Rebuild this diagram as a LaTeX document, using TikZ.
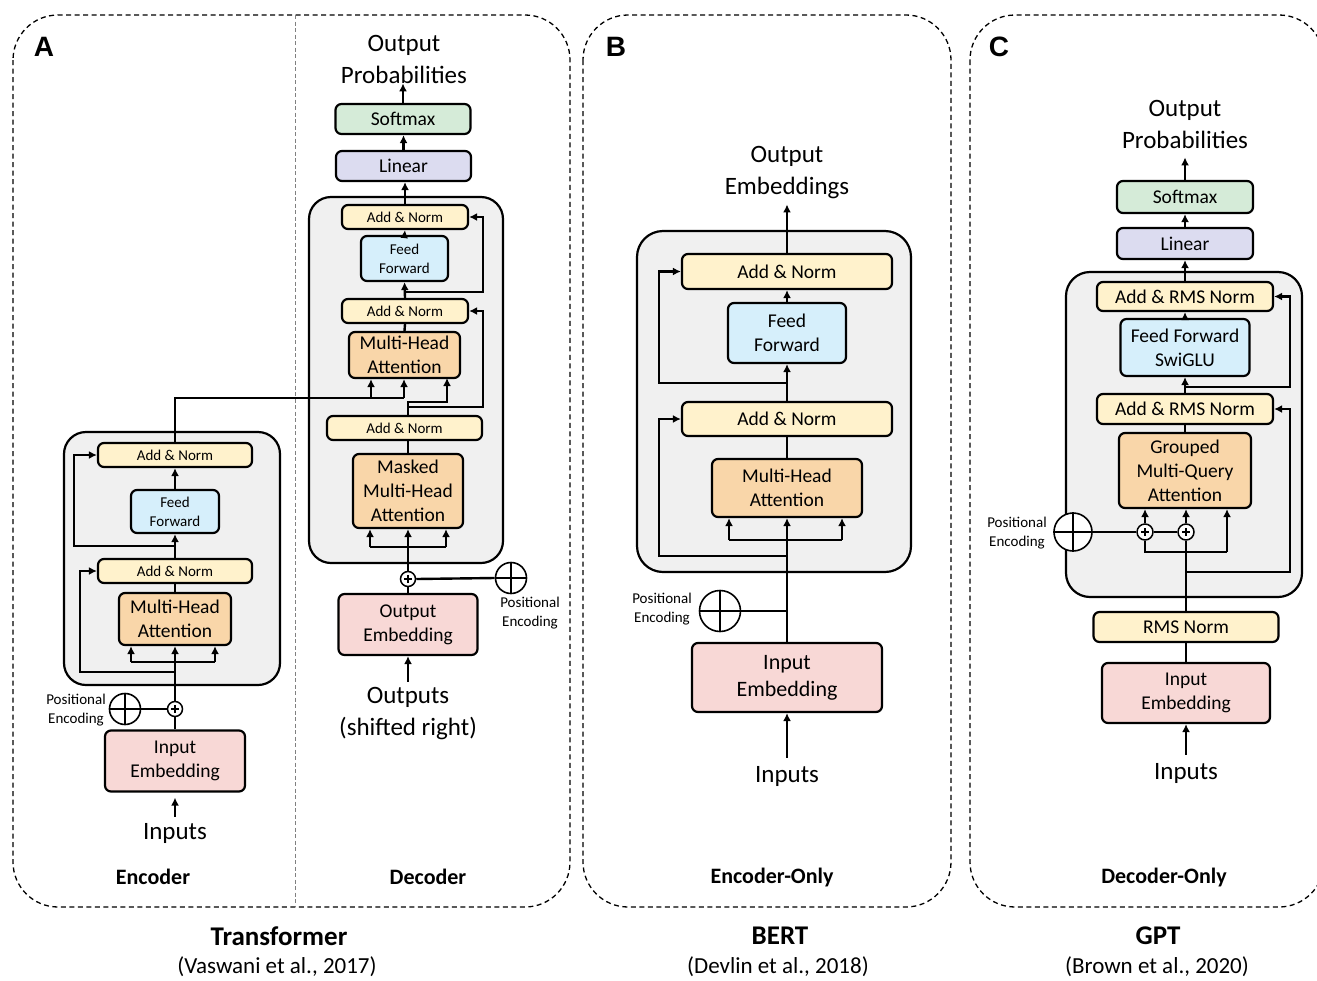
\documentclass[tikz,border=0pt]{standalone}
\usepackage{fontspec}
\setmainfont{Carlito}
\newfontfamily\arialf{Liberation Sans}
\usetikzlibrary{arrows.meta}
\definecolor{cYel}{HTML}{FFF2CC}
\definecolor{cBlue}{HTML}{D6EFFB}
\definecolor{cOrg}{HTML}{F9D6A9}
\definecolor{cPink}{HTML}{F8D8D6}
\definecolor{cGreen}{HTML}{D5EBD8}
\definecolor{cLav}{HTML}{DCDCF0}
\definecolor{cGrey}{HTML}{F0F0F0}
\newcommand{\plusmark}[1]{\draw[line width=1.3pt] ([xshift=-4pt]#1.center) -- ([xshift=4pt]#1.center) ([yshift=-4pt]#1.center) -- ([yshift=4pt]#1.center);}
\newcommand{\crossmark}[1]{\draw[line width=1.5pt] (#1.north) -- (#1.south) (#1.west) -- (#1.east);}
\begin{document}
\begin{tikzpicture}[x=1pt,y=-1pt,
 ln/.style={line width=2.4pt},
 arr/.style={line width=2.4pt,-{Latex[length=8pt,width=8pt]}},
 box/.style={draw,line width=2.2pt,rounded corners=6pt,align=center,inner sep=0pt},
 an/.style={box,fill=cYel},
 ff/.style={box,fill=cBlue},
 att/.style={box,fill=cOrg},
 emb/.style={box,fill=cPink},
 sm/.style={box,fill=cGreen},
 lin/.style={box,fill=cLav},
 blk/.style={draw,line width=2.2pt,fill=cGrey,rounded corners=22pt,inner sep=0pt},
 plusc/.style={circle,draw,fill=white,line width=1.5pt,minimum size=15pt,inner sep=0pt},
 pe/.style={circle,draw,fill=white,line width=1.6pt,inner sep=0pt},
 panel/.style={draw,line width=1.3pt,dash pattern=on 5pt off 3.5pt,rounded corners=45pt},
 txt/.style={inner sep=0pt,align=center},
 f15/.style={font=\fontsize{15}{19}\selectfont},
 f19/.style={font=\fontsize{19.5}{24}\selectfont},
 f22/.style={font=\fontsize{22}{27}\selectfont},
 f25/.style={font=\fontsize{25}{32}\selectfont},
 subtxt/.style={font=\bfseries\fontsize{22}{26}\selectfont},
 captxt/.style={font=\bfseries\fontsize{27}{30}\selectfont},
 citetxt/.style={font=\fontsize{23}{26}\selectfont},
 lettertxt/.style={font=\arialf\bfseries\fontsize{28}{30}\selectfont}
]
\useasboundingbox (0,0) rectangle (1317,980);
\clip (0,0) rectangle (1317,980);

% ---------------- panels ----------------
\draw[panel] (13,15) rectangle (570,907);
\draw[panel] (583,15) rectangle (951,907);
\draw[panel] (970,15) rectangle (1324,907);
\draw[gray,line width=0.8pt,dash pattern=on 4pt off 2.5pt] (295,15) -- (295,907);
\node[lettertxt] (LA) at (44,47) {A};
\node[lettertxt] (LB) at (616,47) {B};
\node[lettertxt] (LC) at (999,47) {C};

% ---------------- A: encoder ----------------
\node[blk,minimum width=216,minimum height=253] (eBlk) at (172,558.5) {};
\node[an,f15,minimum width=154,minimum height=24] (eAN2) at (175,455) {Add \& Norm};
\node[ff,f15,minimum width=88,minimum height=43] (eFF) at (175,511.5) {Feed\\Forward};
\node[an,f15,minimum width=154,minimum height=24] (eAN1) at (175,571) {Add \& Norm};
\node[att,f19,minimum width=112,minimum height=52] (eMHA) at (175,619) {Multi-Head\\Attention};
\node[plusc] (ePlus) at (175,709) {};
\plusmark{ePlus}
\node[pe,minimum size=31] (ePE) at (125,709) {};
\crossmark{ePE}
\node[txt,f15] (ePEt) at (76,710) {Positional\\Encoding};
\node[emb,f19,minimum width=140,minimum height=61] (eEmb) at (175,761) {Input\\Embedding};
\node[txt,f25] (eIn) at (175,833) {Inputs};

\draw[arr,shorten >=5pt] ([yshift=6pt]eIn.north) -- (eEmb.south);
\draw[ln] (eEmb.north) -- (ePlus.south);
\draw[ln] (ePE.east) -- (ePlus.west);
\draw[arr] (ePlus.north) -- (eMHA.south);
\coordinate (eK) at (131,662);
\coordinate (eV) at (215,662);
\draw[ln] (eK) -- (eV);
\draw[arr] (eK) -- (eK |- eMHA.south);
\draw[arr] (eV) -- (eV |- eMHA.south);
\coordinate (eR1) at (175,672);
\draw[arr] (eR1) -- (80,672) -- (80,571) -- (eAN1.west);
\draw[ln] (eMHA.north) -- (eAN1.south);
\draw[arr] (eAN1.north) -- (eFF.south);
\coordinate (eR2) at (175,546);
\draw[arr] (eR2) -- (74,546) -- (74,455) -- (eAN2.west);
\draw[arr] (eFF.north) -- (eAN2.south);

% ---------------- A: decoder ----------------
\node[txt,f25] (dOut) at (404,59) {Output\\Probabilities};
\node[sm,f19,minimum width=135,minimum height=30] (dSoft) at (403,119) {Softmax};
\node[lin,f19,minimum width=135,minimum height=30] (dLin) at (403.5,166) {Linear};
\node[blk,minimum width=194,minimum height=366] (dBlk) at (406,380) {};
\node[an,f15,minimum width=126,minimum height=24] (dAN1) at (405,217) {Add \& Norm};
\node[ff,f15,minimum width=87,minimum height=45] (dFF) at (404.5,258.5) {Feed\\Forward};
\node[an,f15,minimum width=126,minimum height=24] (dAN2) at (405,311) {Add \& Norm};
\node[att,f19,minimum width=111,minimum height=46] (dMHA) at (404.5,355) {Multi-Head\\Attention};
\node[an,f15,minimum width=155,minimum height=24] (dAN3) at (404.5,428) {Add \& Norm};
\node[att,f19,minimum width=110,minimum height=74] (dMMHA) at (408,491) {Masked\\Multi-Head\\Attention};
\node[plusc] (dPlus) at (408,579) {};
\plusmark{dPlus}
\node[pe,minimum size=31] (dPE) at (511,578) {};
\crossmark{dPE}
\node[txt,f15] (dPEt) at (530,613) {Positional\\Encoding};
\node[emb,f19,minimum width=139,minimum height=61] (dEmb) at (408,624.5) {Output\\Embedding};
\node[txt,f25] (dIn) at (408,714) {Outputs\\(shifted right)};

\draw[arr] ([yshift=6pt]dIn.north) -- (dEmb.south);
\draw[ln] (dEmb.north) -- (dPlus.south);
\draw[ln] (dPlus.east) -- (dPE.west);
\draw[arr] (dPlus.north) -- (dMMHA.south);
\coordinate (dK) at (370,547);
\coordinate (dV) at (446,547);
\draw[ln] (dK) -- (dV);
\draw[arr] (dK) -- (dK |- dMMHA.south);
\draw[arr] (dV) -- (dV |- dMMHA.south);
\draw[ln] (dMMHA.north) -- (dMMHA.north |- dAN3.south);
\coordinate (dQ) at (408,402);
\draw[arr] (dMMHA.north |- dAN3.north) -- (dQ) -- (447,402) -- (447,378);
\coordinate (dR1) at (408,407);
\draw[arr] (dR1) -- (483,407) -- (483,311) -- (dAN2.east);
% encoder -> decoder cross attention
\coordinate (dEncK) at (371,398);
\coordinate (dEncV) at (404,398);
\draw[ln] (eAN2.north) -- (175,398) -- (dEncV);
\draw[arr] (dEncK) -- (dEncK |- dMHA.south);
\draw[arr] (dEncV) -- (dEncV |- dMHA.south);
\draw[ln] (dMHA.north) -- (dAN2.south);
\draw[arr] (dAN2.north) -- (dFF.south);
\coordinate (dR2) at (405,292);
\draw[arr] (dR2) -- (483,292) -- (483,217) -- (dAN1.east);
\draw[arr] (dFF.north) -- (dAN1.south);
\draw[arr] (dAN1.north) -- (dAN1.north |- dLin.south);
\draw[arr] (dLin.north) -- (dLin.north |- dSoft.south);
\draw[arr] (dSoft.north) -- (dSoft.north |- dOut.south);

% ---------------- B: BERT ----------------
\node[txt,f25] (bOut) at (787,173) {Output\\Embeddings};
\node[blk,rounded corners=26pt,minimum width=274,minimum height=341] (bBlk) at (774,401.5) {};
\node[an,f19,minimum width=210,minimum height=35] (bAN1) at (787,271.5) {Add \& Norm};
\node[ff,f19,minimum width=118,minimum height=60] (bFF) at (787,333) {Feed\\Forward};
\node[an,f19,minimum width=210,minimum height=34] (bAN2) at (787,419) {Add \& Norm};
\node[att,f19,minimum width=150,minimum height=58] (bMHA) at (787,488) {Multi-Head\\Attention};
\node[pe,minimum size=41] (bPE) at (720,611) {};
\crossmark{bPE}
\node[txt,f15] (bPEt) at (662,609) {Positional\\Encoding};
\node[emb,f22,minimum width=190,minimum height=69] (bEmb) at (787,677.5) {Input\\Embedding};
\node[txt,f25] (bIn) at (787,776) {Inputs};

\draw[arr] ([yshift=8pt]bIn.north) -- (bEmb.south);
\draw[arr] (bEmb.north) -- (bMHA.south);
\coordinate (bPEj) at (787,611);
\draw[ln] (bPE.east) -- (bPEj);
\coordinate (bK) at (729,540);
\coordinate (bV) at (842,540);
\draw[ln] (bK) -- (bV);
\draw[arr] (bK) -- (bK |- bMHA.south);
\draw[arr] (bV) -- (bV |- bMHA.south);
\coordinate (bR1) at (787,556);
\draw[arr] (bR1) -- (659,556) -- (659,419) -- (bAN2.west);
\draw[ln] (bMHA.north) -- (bAN2.south);
\draw[arr] (bAN2.north) -- (bFF.south);
\coordinate (bR2) at (787,383);
\draw[arr] (bR2) -- (659,383) -- (659,271.5) -- (bAN1.west);
\draw[arr] (bFF.north) -- (bAN1.south);
\draw[arr,shorten >=5pt] (bAN1.north) -- (bOut.south);

% ---------------- C: GPT ----------------
\node[txt,f25] (cOut) at (1185,124) {Output\\Probabilities};
\node[sm,f19,minimum width=136,minimum height=32] (cSoft) at (1185,197) {Softmax};
\node[lin,f19,minimum width=136,minimum height=31] (cLin) at (1185,243.5) {Linear};
\node[blk,rounded corners=24pt,minimum width=236,minimum height=325] (cBlk) at (1184,434.5) {};
\node[an,f19,minimum width=176,minimum height=29] (cAN1) at (1185,296.5) {Add \& RMS Norm};
\node[ff,f19,minimum width=129,minimum height=57] (cFF) at (1185,347.5) {Feed Forward\\SwiGLU};
\node[an,f19,minimum width=176,minimum height=30] (cAN2) at (1185,409) {Add \& RMS Norm};
\node[att,f19,minimum width=132,minimum height=75] (cGM) at (1185,470.5) {Grouped\\Multi-Query\\Attention};
\node[plusc,minimum size=16] (cP1) at (1145,532) {};
\plusmark{cP1}
\node[plusc,minimum size=16] (cP2) at (1186,532) {};
\plusmark{cP2}
\node[pe,minimum size=38] (cPE) at (1073,532) {};
\crossmark{cPE}
\node[txt,f15] (cPEt) at (1017,533) {Positional\\Encoding};
\node[an,f19,minimum width=185,minimum height=30] (cRMS) at (1186,627) {RMS Norm};
\node[emb,f19,minimum width=168,minimum height=60] (cEmb) at (1186,693) {Input\\Embedding};
\node[txt,f25] (cIn) at (1186,773) {Inputs};

\draw[arr] ([yshift=8pt]cIn.north) -- (cEmb.south);
\draw[ln] (cEmb.north) -- (cRMS.south);
\draw[ln] (cRMS.north) -- (cP2.south);
\draw[ln] (cPE.east) -- (cP1.west);
\draw[ln] (cP1.east) -- (cP2.west);
\draw[arr] (cP1.north) -- (cP1.north |- cGM.south);
\draw[arr] (cP2.north) -- (cP2.north |- cGM.south);
\coordinate (cV) at (1227,552);
\draw[ln] (cP1.south) -- (1145,552) -- (cV);
\draw[arr] (cV) -- (cV |- cGM.south);
\coordinate (cR1) at (1186,572);
\draw[arr] (cR1) -- (1290,572) -- (1290,409) -- (cAN2.east);
\draw[ln] (cGM.north) -- (cAN2.south);
\draw[arr] (cAN2.north) -- (cFF.south);
\coordinate (cR2) at (1185,387);
\draw[arr] (cR2) -- (1290,387) -- (1290,296.5) -- (cAN1.east);
\draw[arr] (cFF.north) -- (cAN1.south);
\draw[arr] (cAN1.north) -- (cLin.south);
\draw[arr] (cLin.north) -- (cSoft.south);
\draw[arr,shorten >=9pt] (cSoft.north) -- (cOut.south);

% ---------------- labels ----------------
\node[subtxt] (sEnc) at (153,877) {Encoder};
\node[subtxt] (sDec) at (428,877) {Decoder};
\node[subtxt] (sEO) at (772,877) {Encoder-Only};
\node[subtxt] (sDO) at (1164,877) {Decoder-Only};
\node[captxt] (tA) at (279,936) {Transformer};
\node[citetxt] (cA) at (277,967) {(Vaswani et al., 2017)};
\node[captxt] (tB) at (780,936) {BERT};
\node[citetxt] (cB) at (778,967) {(Devlin et al., 2018)};
\node[captxt] (tC) at (1158,936) {GPT};
\node[citetxt] (cC) at (1157,967) {(Brown et al., 2020)};
\end{tikzpicture}
\end{document}
